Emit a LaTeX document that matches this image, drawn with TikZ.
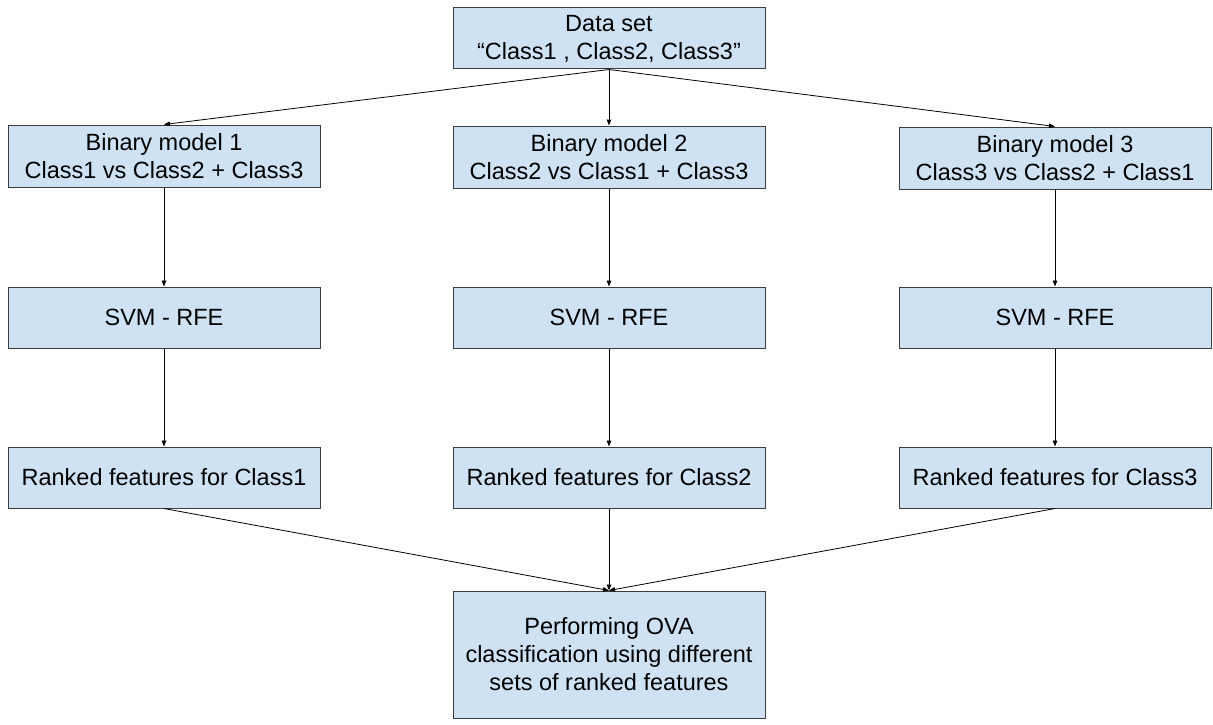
\documentclass[tikz,border=0pt]{standalone}
\usepackage{fontspec}
\setmainfont{Liberation Sans}
\usetikzlibrary{arrows.meta}
\definecolor{boxfill}{HTML}{CFE2F3}
\definecolor{boxline}{HTML}{3C3C3C}
\begin{document}
\begin{tikzpicture}[x=1pt,y=1pt,
  stage/.style={draw=boxline, line width=1pt, fill=boxfill, minimum width=312pt,
    inner sep=0pt, align=center, font=\fontsize{23.5}{28}\selectfont},
  link/.style={-{Triangle[length=6pt,width=4.5pt]}, line width=0.8pt, black}]
\useasboundingbox (0,0) rectangle (1213,-725);

% source data
\node[stage, minimum height=61pt] (data) at (609,-38.5) {Data set\\“Class1 , Class2, Class3”};

% one-vs-all binary models
\node[stage, minimum height=62pt] (bin1) at (164,-156) {Binary model 1\\Class1 vs Class2 + Class3};
\node[stage, minimum height=62pt] (bin2) at (609,-157) {Binary model 2\\Class2 vs Class1 + Class3};
\node[stage, minimum height=62pt] (bin3) at (1055,-158) {Binary model 3\\Class3 vs Class2 + Class1};

% feature ranking
\node[stage, minimum height=61pt] (svm1) at (164,-317.5) {SVM - RFE};
\node[stage, minimum height=61pt] (svm2) at (609,-317.5) {SVM - RFE};
\node[stage, minimum height=61pt] (svm3) at (1055,-317.5) {SVM - RFE};

\node[stage, minimum height=61pt] (rank1) at (164,-477.5) {Ranked features for Class1};
\node[stage, minimum height=61pt] (rank2) at (609,-477.5) {Ranked features for Class2};
\node[stage, minimum height=61pt] (rank3) at (1055,-477.5) {Ranked features for Class3};

% final classification
\node[stage, minimum height=127pt] (ova) at (609,-654.5) {Performing OVA\\classification using different\\sets of ranked features};

% connectors
\foreach \i in {1,2,3} {
  \draw[link] (data.south) -- (bin\i.north);
  \draw[link] (bin\i.south) -- (svm\i.north);
  \draw[link] (svm\i.south) -- (rank\i.north);
  \draw[link] (rank\i.south) -- (ova.north);
}
\end{tikzpicture}
\end{document}
